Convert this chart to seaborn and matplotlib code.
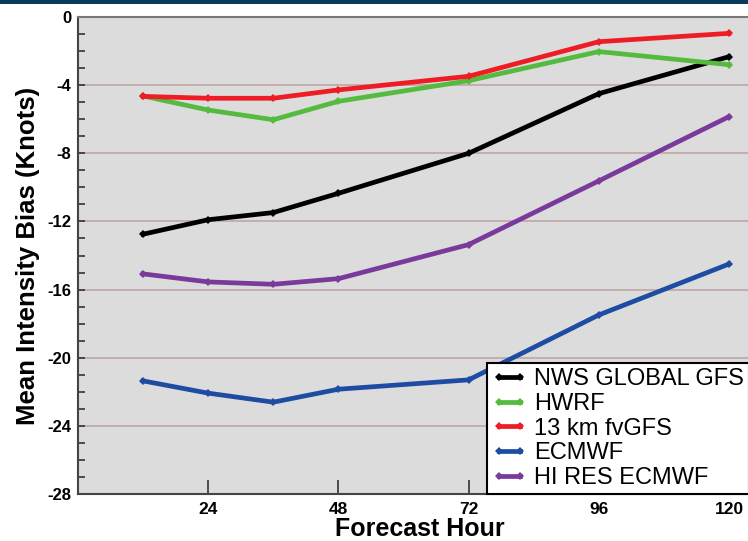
import matplotlib
matplotlib.use("Agg")
import matplotlib.pyplot as plt
import seaborn as sns
import pandas as pd
from matplotlib.lines import Line2D
from matplotlib.patches import Rectangle
from matplotlib.ticker import MultipleLocator

# ---- data ----
hours = [12, 24, 36, 48, 72, 96, 120]
nws_global_gfs = [-12.75, -11.90, -11.48, -10.35, -8.00, -4.50, -2.33]
hwrf = [-4.64, -5.46, -6.03, -4.95, -3.74, -2.03, -2.80]
fvgfs_13km = [-4.66, -4.77, -4.77, -4.28, -3.48, -1.45, -0.96]
ecmwf = [-21.36, -22.08, -22.61, -21.85, -21.30, -17.49, -14.50]
hi_res_ecmwf = [-15.08, -15.55, -15.69, -15.36, -13.36, -9.62, -5.85]

series_names = ["NWS GLOBAL GFS", "HWRF", "13 km fvGFS", "ECMWF", "HI RES ECMWF"]
series_values = [nws_global_gfs, hwrf, fvgfs_13km, ecmwf, hi_res_ecmwf]
colors = ["#000000", "#55bb3f", "#ee1c24", "#1f4ca3", "#7a3a9c"]

x_ticks = [24, 48, 72, 96, 120]
y_ticks = [0, -4, -8, -12, -16, -20, -24, -28]

xlabel = "Forecast Hour"
ylabel = "Mean Intensity Bias (Knots)"

rows = []
for name, vals in zip(series_names, series_values):
    for h, v in zip(hours, vals):
        rows.append({"hour": h, "bias": v, "model": name})
df = pd.DataFrame(rows)

plt.rcParams["font.family"] = ["Liberation Sans", "DejaVu Sans"]

fig = plt.figure(figsize=(7.48, 5.41), dpi=100)
fig.patch.set_facecolor("white")

W, H = 748, 541
x0_px, x120_px = 78, 729
ppu = (x120_px - x0_px) / 120.0
xmax = 126
right_px = x0_px + xmax * ppu
top_px, bot_px = 17, 494
ax = fig.add_axes([x0_px / W, (H - bot_px) / H, (right_px - x0_px) / W, (bot_px - top_px) / H])
ax.set_facecolor("#dcdcdc")

# top banner
fig.patches.append(Rectangle((0, 1 - 3.5 / H), 1, 3.5 / H, transform=fig.transFigure,
                             facecolor="#0b3b5b", edgecolor="none", zorder=10))

palette = dict(zip(series_names, colors))
sns.lineplot(data=df, x="hour", y="bias", hue="model", hue_order=series_names,
             palette=palette, linewidth=3.4, marker="D", markersize=4.5,
             markeredgewidth=0, ax=ax, legend=False, zorder=3)

ax.set_xlim(0, xmax)
ax.set_ylim(-28, 0)
ax.set_xticks(x_ticks)
ax.set_xticklabels([str(t) for t in x_ticks], fontsize=12.5, fontweight="bold")
ax.set_yticks(y_ticks)
ax.set_yticklabels([str(t) for t in y_ticks], fontsize=12, fontweight="bold")
ax.yaxis.set_minor_locator(MultipleLocator(1))

for yv in [-4, -8, -12, -16, -20, -24]:
    ax.axhline(yv, color="#c2abab", linewidth=1.3, zorder=1)

ax.tick_params(axis="x", which="major", direction="in", length=10, width=1.2,
               color="#333333", pad=6)
ax.tick_params(axis="y", which="both", direction="in", length=5, width=1.2,
               color="#333333", pad=5)

for s in ["left", "bottom"]:
    ax.spines[s].set_color("#444444")
    ax.spines[s].set_linewidth(1.5)
ax.spines["top"].set_color("#777777")
ax.spines["top"].set_linewidth(1.5)
ax.spines["right"].set_visible(False)

ax.set_xlabel(xlabel, fontsize=18, fontweight="bold", labelpad=0)
ax.set_ylabel(ylabel, fontsize=18.5, fontweight="bold", labelpad=5)

handles = [Line2D([0], [0], color=c, linewidth=3.4, marker="D", markersize=4.5,
                  markeredgewidth=0) for c in colors]
leg = ax.legend(handles, series_names, loc="lower left",
                bbox_to_anchor=((487 - x0_px) / (right_px - x0_px), 0.0),
                fontsize=17, frameon=True, fancybox=False, framealpha=1,
                edgecolor="black", borderpad=0.2, labelspacing=0.12,
                handlelength=1.5, handletextpad=0.3, numpoints=2,
                borderaxespad=0.0)
leg.get_frame().set_linewidth(1.5)
leg.set_zorder(5)

fig.savefig("out.png", dpi=100, facecolor="white")
